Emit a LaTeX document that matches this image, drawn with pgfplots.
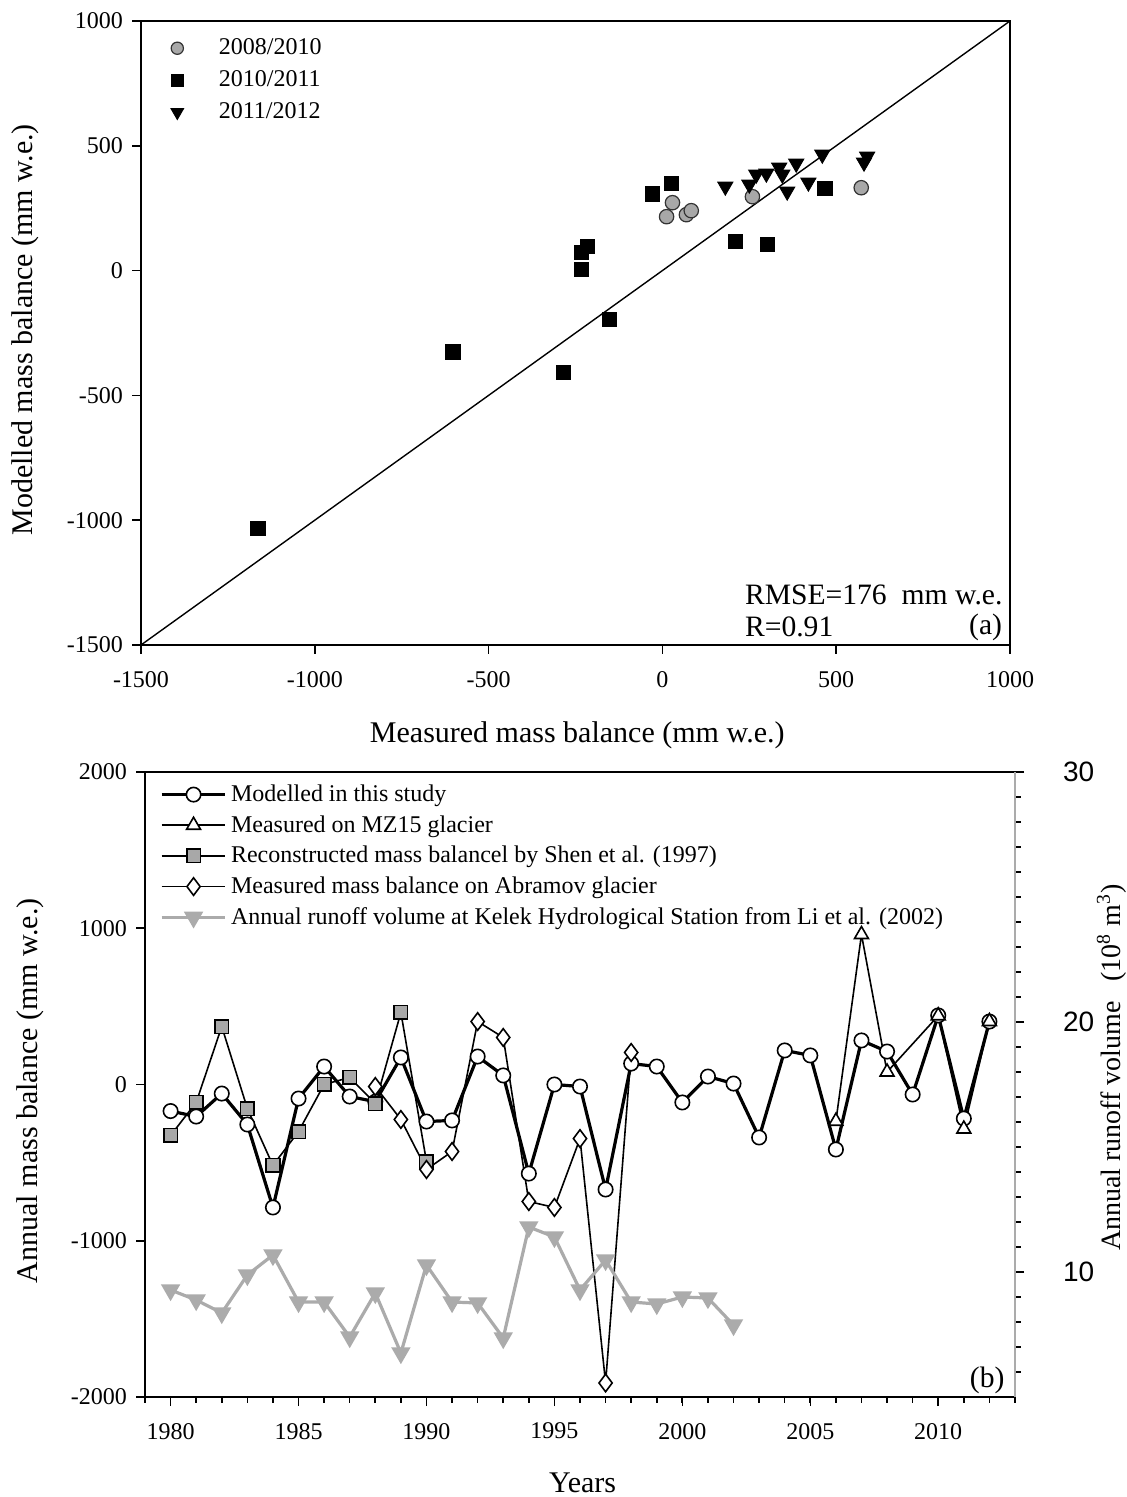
\documentclass[border=0pt]{standalone}
\usepackage{fontspec}
\setmainfont{Liberation Serif}
\setsansfont{Liberation Sans}
\usepackage{pgfplots}
\pgfplotsset{compat=1.18}

\definecolor{mgrey}{HTML}{A8A8A8}
\definecolor{rgrey}{HTML}{ABABAB}

\newcommand{\tickfont}{\fontsize{12}{14}\selectfont}
\newcommand{\labfont}{\fontsize{15}{18}\selectfont}
\newcommand{\annfont}{\fontsize{14.8}{17}\selectfont}

\pgfplotsset{
  common/.style={
    scale only axis,
    axis line style={line width=0.9pt},
    tick style={line width=0.8pt, black},
    major tick length=4.5pt,
    minor tick length=2.8pt,
    tick align=outside,
    /pgf/number format/assume math mode=true,
    /pgf/number format/1000 sep={},
    xticklabel style={font=\tickfont, yshift=-5pt},
    yticklabel style={font=\tickfont, xshift=-1pt},
    xlabel style={font=\labfont},
    ylabel style={font=\labfont},
    clip=false,
  }
}

\begin{document}
\begin{tikzpicture}
% ---------------- (a) ----------------
\begin{axis}[common,
  at={(70.5pt,426pt)}, anchor=south west,
  width=434.5pt, height=312pt,
  xmin=-1500, xmax=1000, ymin=-1500, ymax=1000,
  xtick={-1500,-1000,...,1000}, ytick={-1500,-1000,...,1000},
  tick pos=left,
  xlabel={Measured mass balance (mm w.e.)},
  ylabel={Modelled mass balance (mm w.e.)},
  xlabel style={at={(axis description cs:0.502,-0.144)}, anchor=center},
  ylabel style={at={(axis description cs:-0.1335,0.505)}, anchor=center},
  legend style={draw=none, fill=none, font=\tickfont, at={(axis description cs:0.02,0.985)}, anchor=north west, row sep=2.5pt},
  legend cell align=left,
  legend image code/.code={\path[draw=none,fill=none] (0cm,0cm) -- (0.88cm,0cm); \draw[#1,mark repeat=1,every mark/.append style={scale=0.85}] plot coordinates {(0.22cm,0cm)};},
]
\addplot[black, line width=0.7pt, forget plot] coordinates {(-1500,-1500) (1000,1000)};
\addplot[only marks, mark=*, mark size=3.6pt, mark options={fill=mgrey, draw=black!80, line width=0.6pt}] coordinates {
(29,272) (12,216) (69,224) (83,240) (259,296) (572,332)};
\addlegendentry{2008/2010}
\addplot[only marks, mark=square*, mark size=3.6pt, mark options={fill=black, draw=black}] coordinates {
(-1164,-1034) (-603,-325) (-284,-409) (-152,-196) (-233,4) (-233,72) (-216,96) (-29,308) (26,349) (210,116) (302,104) (468,329)};
\addlegendentry{2010/2011}
\addplot[only marks, mark=triangle*, mark size=4.4pt, mark options={rotate=180, fill=black, draw=black}] coordinates {
(181,337) (250,345) (270,385) (299,389) (336,413) (345,385) (385,429) (359,317) (420,353) (460,465) (589,457) (580,433)};
\addlegendentry{2011/2012}
\node[font=\annfont, anchor=west] at (axis description cs:0.687,0.080) {RMSE=176\ \ mm w.e.};
\node[font=\annfont, anchor=west] at (axis description cs:0.687,0.029) {R=0.91};
\node[font=\annfont, anchor=east] at (axis description cs:0.999,0.029) {(a)};
\end{axis}

% ---------------- (b) ----------------
\begin{axis}[common,
  at={(72.5pt,50pt)}, anchor=south west,
  width=435pt, height=312.5pt,
  xmin=1979, xmax=2013, ymin=-2000, ymax=2000,
  xtick={1980,1985,...,2010}, minor xtick={1979,...,2013},
  ytick={-2000,-1000,...,2000},
  axis x line*=box, axis y line*=left,
  xtick pos=left, ytick pos=left,
  xlabel={Years},
  ylabel={Annual mass balance (mm w.e.)},
  xlabel style={at={(axis description cs:0.503,-0.138)}, anchor=center},
  ylabel style={at={(axis description cs:-0.132,0.49)}, anchor=center},
  legend style={draw=none, fill=none, font=\tickfont, at={(axis description cs:0.01,0.993)}, anchor=north west, row sep=1.5pt},
  legend cell align=left,
  legend image code/.code={\draw[mark repeat=2,mark phase=2,#1] plot coordinates {(0cm,0cm) (0.56cm,0cm) (1.12cm,0cm)};},
]
\addplot[black, line width=1.6pt, mark=*, mark size=3.6pt, mark options={fill=white, draw=black, line width=0.8pt}] coordinates {
(1980,-170) (1981,-205) (1982,-58) (1983,-256) (1984,-787) (1985,-90) (1986,115) (1987,-77) (1988,-110) (1989,173)
(1990,-237) (1991,-230) (1992,179) (1993,58) (1994,-570) (1995,0) (1996,-13) (1997,-672) (1998,134) (1999,115)
(2000,-115) (2001,51) (2002,6) (2003,-339) (2004,218) (2005,186) (2006,-416) (2007,282) (2008,211) (2009,-64)
(2010,442) (2011,-218) (2012,403)};
\addlegendentry{Modelled in this study}
\addplot[black, line width=0.8pt, mark=triangle*, mark size=4pt, mark options={fill=white, draw=black, line width=0.8pt}] coordinates {
(2006,-235) (2007,960) (2008,80) (2010,440) (2011,-285) (2012,403)};
\addlegendentry{Measured on MZ15 glacier}
\addplot[black, line width=0.8pt, mark=square*, mark size=3.4pt, mark options={fill=mgrey, draw=black, line width=0.8pt}] coordinates {
(1980,-326) (1981,-115) (1982,371) (1983,-154) (1984,-518) (1985,-301) (1986,0) (1987,45) (1988,-122) (1989,461) (1990,-493)};
\addlegendentry{Reconstructed mass balancel by Shen et al. (1997)}
\addplot[black, line width=0.8pt, mark=diamond*, mark size=4.4pt, mark options={fill=white, draw=black, line width=0.8pt}] coordinates {
(1988,-13) (1989,-224) (1990,-544) (1991,-429) (1992,403) (1993,301) (1994,-749) (1995,-787) (1996,-346) (1997,-1910) (1998,205)};
\addlegendentry{Measured mass balance on Abramov glacier}
\addlegendimage{rgrey, line width=1.6pt, mark=triangle*, mark size=4pt, mark options={rotate=180, fill=rgrey, draw=rgrey}}
\addlegendentry{Annual runoff volume at Kelek Hydrological Station from Li et al. (2002)}
\node[font=\annfont, anchor=east] at (axis description cs:0.996,0.026) {(b)};
\end{axis}

\begin{axis}[common,
  at={(72.5pt,50pt)}, anchor=south west,
  width=435pt, height=312.5pt,
  xmin=1979, xmax=2013, ymin=5, ymax=30,
  axis x line=none, axis y line*=right,
  ytick={10,20,30}, minor ytick={6,...,29},
  y axis line style={draw=rgrey, line width=1.4pt},
  yticklabel style={font=\sffamily\fontsize{14}{16}\selectfont, xshift=17pt},
  ylabel={Annual runoff volume\hspace{0.7em}(10\textsuperscript{8} m\textsuperscript{3})},
  ylabel style={font=\fontsize{14}{16}\selectfont, at={(axis description cs:1.111,0.527)}, anchor=center},
]
\addplot[rgrey, line width=1.6pt, mark=triangle*, mark size=4pt, mark options={rotate=180, fill=rgrey, draw=rgrey}] coordinates {
(1980,9.28) (1981,8.88) (1982,8.36) (1983,9.88) (1984,10.68) (1985,8.8) (1986,8.8) (1987,7.4) (1988,9.16) (1989,6.76)
(1990,10.28) (1991,8.8) (1992,8.76) (1993,7.36) (1994,11.8) (1995,11.4) (1996,9.28) (1997,10.48) (1998,8.8) (1999,8.72)
(2000,9.0) (2001,8.96) (2002,7.88)};
\end{axis}
\pgfresetboundingbox
\path[use as bounding box] (0pt,0pt) rectangle (563pt,748.5pt);
\end{tikzpicture}
\end{document}
